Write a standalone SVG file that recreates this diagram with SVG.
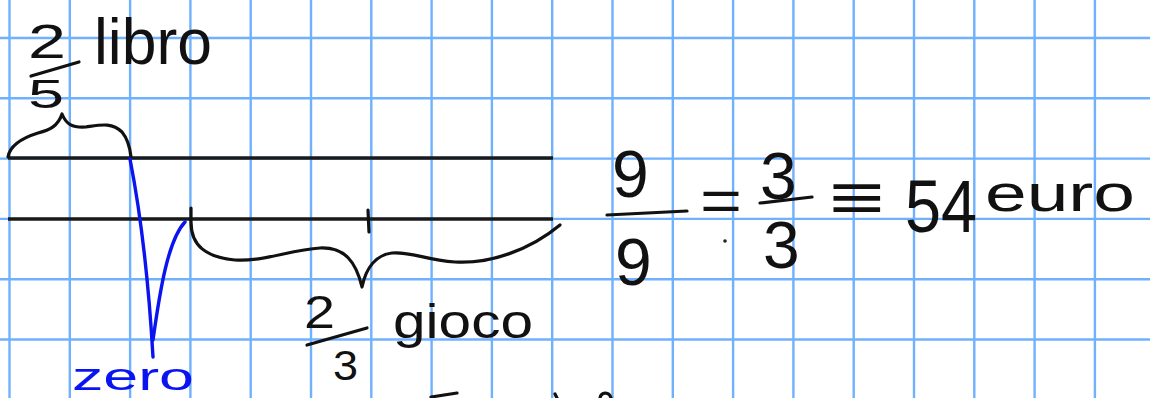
<svg xmlns="http://www.w3.org/2000/svg" width="1150" height="398" viewBox="0 0 1150 398">
  <defs>
    <style>
      .grid line { stroke: #6fb0ff; stroke-width: 2.4; }
      .ink { fill: none; stroke: #111; stroke-width: 3.2; stroke-linecap: round; stroke-linejoin: round; }
      .rule { fill: none; stroke: #1a1a1a; stroke-width: 3.6; stroke-linecap: butt; }
      .blue { fill: none; stroke: #0a14f0; stroke-width: 3.4; stroke-linecap: round; stroke-linejoin: round; }
      .hand { font-family: "Liberation Sans", "DejaVu Sans", sans-serif; fill: #111; }
      .handb { font-family: "Liberation Sans", "DejaVu Sans", sans-serif; fill: #0a14f0; }
    </style>
  </defs>
  <rect width="1150" height="398" fill="#ffffff"/>
  <g class="grid" id="grid">
    <line x1="9.5" y1="0" x2="9.5" y2="398"/>
    <line x1="69.8" y1="0" x2="69.8" y2="398"/>
    <line x1="130.1" y1="0" x2="130.1" y2="398"/>
    <line x1="190.4" y1="0" x2="190.4" y2="398"/>
    <line x1="250.7" y1="0" x2="250.7" y2="398"/>
    <line x1="311" y1="0" x2="311" y2="398"/>
    <line x1="371.3" y1="0" x2="371.3" y2="398"/>
    <line x1="431.6" y1="0" x2="431.6" y2="398"/>
    <line x1="491.9" y1="0" x2="491.9" y2="398"/>
    <line x1="552.2" y1="0" x2="552.2" y2="398"/>
    <line x1="612.5" y1="0" x2="612.5" y2="398"/>
    <line x1="672.8" y1="0" x2="672.8" y2="398"/>
    <line x1="733.1" y1="0" x2="733.1" y2="398"/>
    <line x1="793.4" y1="0" x2="793.4" y2="398"/>
    <line x1="853.7" y1="0" x2="853.7" y2="398"/>
    <line x1="914" y1="0" x2="914" y2="398"/>
    <line x1="974.3" y1="0" x2="974.3" y2="398"/>
    <line x1="1034.6" y1="0" x2="1034.6" y2="398"/>
    <line x1="1094.9" y1="0" x2="1094.9" y2="398"/>
    <line x1="0" y1="38" x2="1150" y2="38"/>
    <line x1="0" y1="98.3" x2="1150" y2="98.3"/>
    <line x1="0" y1="158.6" x2="1150" y2="158.6"/>
    <line x1="0" y1="218.9" x2="1150" y2="218.9"/>
    <line x1="0" y1="279.2" x2="1150" y2="279.2"/>
    <line x1="0" y1="339.5" x2="1150" y2="339.5"/>
  </g>

  <g id="bars">
    <line class="rule" x1="8" y1="158" x2="553" y2="158"/>
    <line class="rule" x1="8" y1="219" x2="553" y2="219"/>
    <path class="ink" d="M368,210 L369,232"/>
  </g>

  <g id="brace-libro">
    <path class="ink" d="M8,157 C10,145 22,138 38,133 C50,130 58,126 62,114 C66,124 72,128 86,127 C100,125 112,122 122,132 C127,138 130,148 131,157"/>
  </g>

  <g id="label-libro">
    <text class="hand" x="28" y="58" font-size="48" textLength="38" lengthAdjust="spacingAndGlyphs">2</text>
    <path class="ink" d="M31,76 L79,62"/>
    <text class="hand" x="28" y="108" font-size="40" textLength="36" lengthAdjust="spacingAndGlyphs">5</text>
    <text class="hand" x="94" y="64" font-size="64" textLength="118" lengthAdjust="spacingAndGlyphs">libro</text>
  </g>

  <g id="brace-gioco">
    <path class="ink" d="M191,208 L191,222 C191,246 206,257 235,260 C262,262 290,250 320,248 C345,247 356,262 362,287 C366,268 376,255 392,253 C410,251 425,260 455,262 C490,264 530,250 560,225"/>
  </g>

  <g id="label-gioco">
    <text class="hand" x="304" y="328" font-size="46" textLength="31" lengthAdjust="spacingAndGlyphs">2</text>
    <path class="ink" d="M307,345 L367,328"/>
    <text class="hand" x="333" y="380" font-size="42" textLength="25" lengthAdjust="spacingAndGlyphs">3</text>
    <text class="hand" x="393" y="338" font-size="48" textLength="140" lengthAdjust="spacingAndGlyphs">gioco</text>
  </g>

  <g id="zero">
    <path class="blue" d="M130,159 C138,200 148,270 153,357"/>
    <path class="blue" d="M153,340 C160,290 168,240 185,222"/>
    <text class="handb" x="72" y="390" font-size="38" textLength="122" lengthAdjust="spacingAndGlyphs">zero</text>
  </g>

  <g id="equation">
    <text class="hand" x="612" y="197" font-size="66">9</text>
    <path class="ink" d="M607,215 L687,211"/>
    <text class="hand" x="615" y="285" font-size="66">9</text>
    <text class="hand" x="700" y="221" font-size="60" textLength="42" lengthAdjust="spacingAndGlyphs">=</text>
    <circle cx="725" cy="241" r="1.8" fill="#222"/>
    <text class="hand" x="760" y="199" font-size="66">3</text>
    <path class="ink" d="M760,203 L812,197"/>
    <text class="hand" x="763" y="268" font-size="66">3</text>
    <text class="hand" x="829" y="220" font-size="66" textLength="56" lengthAdjust="spacingAndGlyphs">≡</text>
    <text class="hand" x="905" y="232" font-size="74" textLength="72" lengthAdjust="spacingAndGlyphs">54</text>
    <text class="hand" x="985" y="211" font-size="52" textLength="150" lengthAdjust="spacingAndGlyphs">euro</text>
  </g>

  <g id="next-line">
    <path class="ink" d="M431,397 L457,393"/>
    <path class="ink" d="M555,394 L557,398"/>
    <path class="ink" d="M600,398 C601,392 609,391 611,398"/>
  </g>
</svg>
